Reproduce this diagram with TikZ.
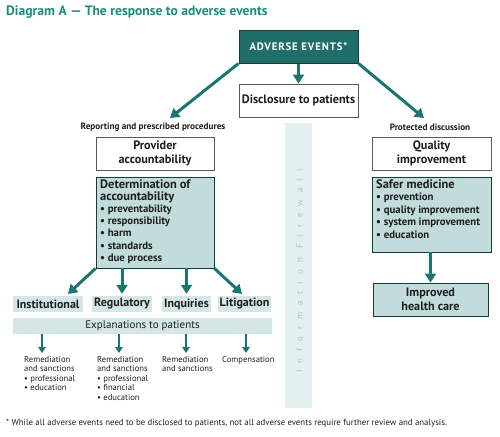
\documentclass[tikz,border=0pt]{standalone}
\usepackage{fontspec}
\setmainfont{PT Sans}
\usetikzlibrary{arrows.meta,positioning,calc}
\definecolor{teal1}{RGB}{26,118,112}
\definecolor{darkteal}{RGB}{31,110,105}
\definecolor{tealborder}{RGB}{20,60,58}
\definecolor{titlecol}{RGB}{28,140,128}
\definecolor{boxfill}{RGB}{194,220,219}
\definecolor{lblfill}{RGB}{212,231,230}
\definecolor{fwfill}{RGB}{227,240,240}
\definecolor{fwtext}{RGB}{165,200,200}
\definecolor{txt}{RGB}{30,30,30}
\definecolor{greyborder}{RGB}{90,90,90}
\tikzset{
  x=1pt,y=-1pt,
  every node/.style={text=txt,inner sep=0pt},
  whitebox/.style={draw=greyborder,line width=0.9pt,fill=white,align=center,font=\fontsize{12.2}{13.5}\selectfont\bfseries},
  tealbox/.style={draw=tealborder,line width=0.9pt,fill=boxfill},
  lblbox/.style={fill=lblfill,font=\fontsize{12}{13}\selectfont\bfseries},
  bigarrow/.style={draw=teal1,line width=3pt,-{Triangle[length=9pt,width=11pt]}},
  smallarrow/.style={draw=teal1,line width=1.8pt,-{Triangle[length=6pt,width=7.5pt]}},
  smalltext/.style={anchor=north west,align=left,font=\fontsize{8.6}{9.5}\selectfont},
  header/.style={font=\fontsize{9.2}{10}\selectfont\bfseries},
}
\begin{document}
\begin{tikzpicture}
\useasboundingbox (0,0) rectangle (500,436);
% title
\node[anchor=west,text=titlecol,font=\fontsize{13.6}{15}\selectfont\bfseries] (title) at (6,12) {Diagram A — The response to adverse events};
% firewall
\node[fill=fwfill,minimum width=27pt,minimum height=285pt] (fw) at (298.5,265.5) {};
\node[rotate=90,text=fwtext,font=\fontsize{8.8}{9}\selectfont\addfontfeature{LetterSpace=80}] (fwt) at (299.5,271) {Information Firewall};
% top
\node[draw=tealborder,line width=1pt,fill=darkteal,text=white,minimum width=119pt,minimum height=32pt,font=\fontsize{10.8}{12}\selectfont\bfseries\addfontfeature{LetterSpace=8}] (ae) at (298.5,47) {ADVERSE EVENTS*};
\node[whitebox,minimum width=119pt,minimum height=33pt] (disc) at (298.5,100.5) {Disclosure to patients};
\node[header] (rep) at (153,127) {Reporting and prescribed procedures};
\node[header] (prot) at (430,127) {Protected discussion};
\coordinate (repend) at (170,118);
\coordinate (protend) at (424,118);
\draw[bigarrow] (ae.south west) -- (repend);
\draw[bigarrow] (ae.south) -- (disc.north);
\draw[bigarrow] (ae.south east) -- (protend);
% left column
\node[whitebox,minimum width=118pt,minimum height=33pt] (prov) at (155,153.5) {Provider\\accountability};
\node[tealbox,minimum width=118pt,minimum height=91pt] (det) at (155,222.5) {};
\node[anchor=north west,align=left,font=\fontsize{10.8}{12.2}\selectfont\bfseries] (dett) at (100,179) {{\fontsize{12.4}{13}\selectfont Determination of}\\[0.5pt]{\fontsize{12.4}{13}\selectfont accountability}\\[-0.5pt]\textbullet\ preventability\\\textbullet\ responsibility\\\textbullet\ harm\\\textbullet\ standards\\\textbullet\ due process};
% label boxes
\node[lblbox,minimum width=70pt,minimum height=16pt] (inst) at (48,304) {Institutional};
\node[lblbox,minimum width=60pt,minimum height=16pt] (reg) at (122,304) {Regulatory};
\node[lblbox,minimum width=49pt,minimum height=16pt] (inq) at (186.5,304) {Inquiries};
\node[lblbox,minimum width=53pt,minimum height=16pt] (lit) at (244.5,304) {Litigation};
\coordinate (instend) at (68,294);
\coordinate (litend) at (242,294);
\draw[bigarrow] (det.south west) -- (instend);
\draw[bigarrow] (det.south -| reg) -- ($(reg.north)+(0,-2)$);
\draw[bigarrow] (det.south -| inq) -- ($(inq.north)+(0,-2)$);
\draw[bigarrow] (det.south east) -- (litend);
\node[fill=lblfill,minimum width=259pt,minimum height=16pt,font=\fontsize{11}{12}\selectfont] (expl) at (142.5,326) {Explanations to patients};
% outcome texts
\node[smalltext] (o1) at (24,356) {Remediation\\and sanctions\\\textbullet\ professional\\\textbullet\ education};
\node[smalltext] (o2) at (97,356) {Remediation\\and sanctions\\\textbullet\ professional\\\textbullet\ financial\\\textbullet\ education};
\node[smalltext] (o3) at (162,356) {Remediation\\and sanctions};
\node[smalltext] (o4) at (222,356) {Compensation};
\draw[smallarrow] (expl.south -| 42,0) -- (42,353);
\draw[smallarrow] (expl.south -| 119,0) -- (119,353);
\draw[smallarrow] (expl.south -| 186,0) -- (186,353);
\draw[smallarrow] (expl.south -| 246,0) -- (246,353);
% right column
\node[whitebox,minimum width=119pt,minimum height=33pt] (qi) at (431.5,153.5) {Quality\\improvement};
\node[tealbox,minimum width=119pt,minimum height=75pt] (safe) at (431.5,214.5) {};
\node[anchor=north west,align=left,font=\fontsize{10.8}{12.4}\selectfont\bfseries] (safet) at (376,179) {{\fontsize{12.4}{13}\selectfont Safer medicine}\\[0.5pt]\textbullet\ prevention\\\textbullet\ quality improvement\\\textbullet\ system improvement\\\textbullet\ education};
\node[tealbox,align=center,minimum width=115pt,minimum height=33pt,font=\fontsize{12.2}{13.5}\selectfont\bfseries] (imp) at (430.5,299.5) {Improved\\health care};
\draw[bigarrow] (safe.south -| imp) -- (imp.north);
% footnote
\node[anchor=west,font=\fontsize{8.8}{10}\selectfont] (foot) at (6,423) {* While all adverse events need to be disclosed to patients, not all adverse events require further review and analysis.};
\end{tikzpicture}
\end{document}
